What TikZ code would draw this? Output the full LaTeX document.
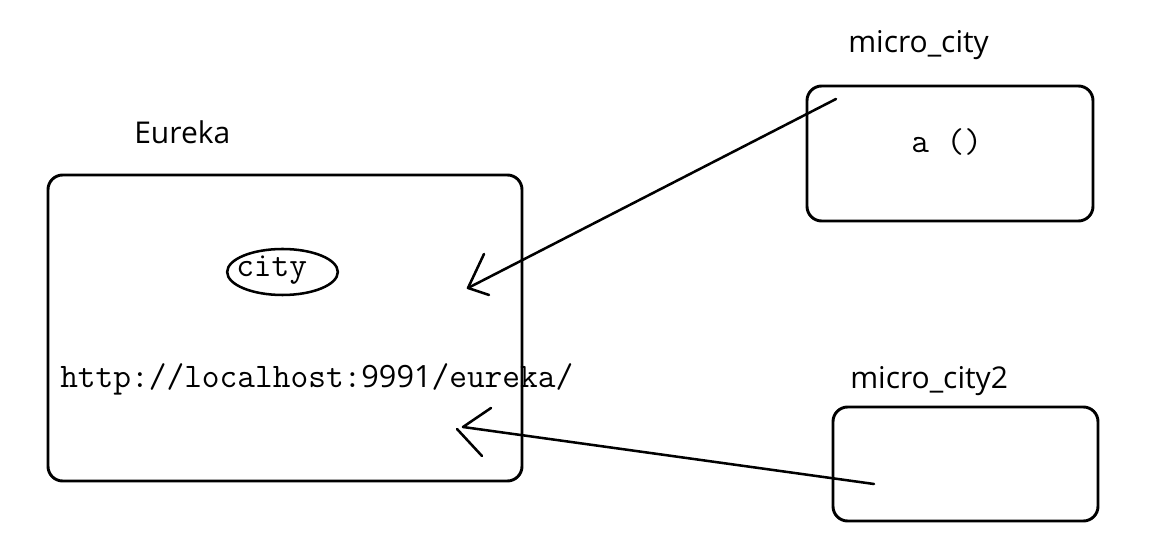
\documentclass[tikz,border=0pt]{standalone}
\usepackage{fontspec}
\setmainfont{Open Sans}
\setsansfont{Open Sans}
\newfontfamily\digitfont{Open Sans}
\usetikzlibrary{shapes.geometric}
\begin{document}
\begin{tikzpicture}[x=0.75pt,y=-0.75pt,
  box/.style={draw,line width=2.2pt,rounded corners=11pt,inner sep=0pt},
  lbl/.style={inner sep=0pt,anchor=base west,font=\fontsize{22.5}{27}\selectfont},
  mono/.style={inner sep=0pt,anchor=base west,font=\fontsize{25.8}{30}\selectfont\ttfamily},
  conn/.style={line width=1.9pt,line cap=round,line join=round}]
\useasboundingbox (0,0) rectangle (1161,548);
% boxes
\node[box,minimum width=355.5pt,minimum height=229.5pt] (eureka) at (285,328) {};
\node[box,minimum width=214.5pt,minimum height=101.25pt] (mc) at (950,153.5) {};
\node[box,minimum width=198.75pt,minimum height=85.5pt] (mc2) at (965.5,464) {};
% labels
\node[lbl] (leur) at (134,144) {Eureka};
\node[lbl] (lmc) at (848,53) {micro\_city};
\node[lbl] (lmc2) at (850,389) {micro\_city2};
% ellipse
\node[draw,ellipse,line width=1.9pt,minimum width=83pt,minimum height=34.5pt,inner sep=0pt] (city) at (282.5,272) {};
\node[mono] (citytxt) at (236,277) {city};
\node[mono] (url) at (60,388) {http://localhost:{\digitfont\fontsize{23}{27}\selectfont 9991}/eureka/};
\node[mono] (afn) at (911,153) {a ()};
% arrows
\coordinate (a1s) at (836,99);
\coordinate (a1e) at (468,288);
\coordinate (h1a) at (484,254);
\coordinate (h1b) at (489,295);
\draw[conn] (a1s) -- (a1e);
\draw[conn] (h1a) -- (a1e) -- (h1b);
\coordinate (a2s) at (874,484);
\coordinate (a2e) at (463,427);
\coordinate (h2a) at (491,408);
\coordinate (h2b) at (457,429);
\coordinate (h2c) at (482,456);
\draw[conn] (a2s) -- (a2e);
\draw[conn] (a2e) -- (h2a);
\draw[conn] (h2b) -- (h2c);
\end{tikzpicture}
\end{document}
